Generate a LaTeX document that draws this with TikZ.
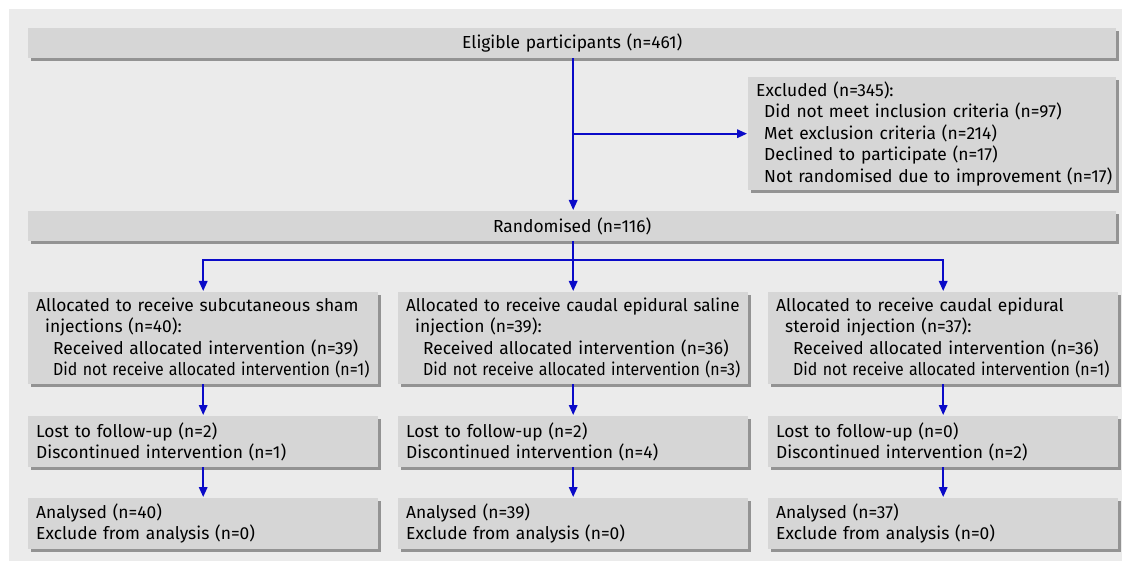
\documentclass[tikz,border=0pt]{standalone}
\usepackage{fontspec}
\usepackage{graphicx}
\setmainfont{Fira Sans}
\usetikzlibrary{arrows.meta,shadows}
\definecolor{panelgrey}{HTML}{EBEBEB}
\definecolor{boxgrey}{HTML}{D6D6D6}
\definecolor{shadowgrey}{HTML}{939393}
\definecolor{flowblue}{RGB}{10,10,200}
\newcommand{\squeezed}[1]{\scalebox{0.915}[1]{#1}}
\tikzset{
  flowbox/.style={fill=boxgrey, anchor=north west, inner xsep=8pt, inner ysep=0pt,
    align=left, text width=334pt, minimum width=350pt,
    general shadow={fill=shadowgrey, shadow xshift=3pt, shadow yshift=-3pt},
    font=\fontsize{17.4pt}{21.5pt}\selectfont},
  widebox/.style={flowbox, text width=1072pt, minimum width=1088pt, align=center},
  flowarrow/.style={draw=flowblue, line width=1.8pt,
    -{Triangle[length=10pt,width=8.5pt]}, shorten >=1pt}
}
\begin{document}
\begin{tikzpicture}[x=1pt,y=-1pt]
\useasboundingbox (0,0) rectangle (1122,561);
\fill[white] (0,0) rectangle (1122,561);
\fill[panelgrey] (9,9) rectangle (1122,561);

\node[widebox, minimum height=30pt] (elig) at (28,28) {\mbox{Eligible participants (n=461)}};
\node[flowbox, text width=352pt, minimum width=368pt, minimum height=113pt] (excl) at (748,77)
  {\mbox{Excluded (n=345):}\\
   \mbox{\hspace*{8pt}Did not meet inclusion criteria (n=97)}\\
   \mbox{\hspace*{8pt}Met exclusion criteria (n=214)}\\
   \mbox{\hspace*{8pt}Declined to participate (n=17)}\\
   \mbox{\hspace*{8pt}Not randomised due to improvement (n=17)}};
\node[widebox, minimum height=30pt] (rand) at (28,211) {\mbox{Randomised (n=116)}};

\node[flowbox, minimum height=92pt] (al1) at (28,292)
  {\mbox{Allocated to receive subcutaneous sham}\\
   \mbox{\hspace*{9pt}injections (n=40):}\\
   \mbox{\hspace*{17pt}Received allocated intervention (n=39)}\\
   \mbox{\hspace*{17pt}\squeezed{Did not receive allocated intervention (n=1)}}};
\node[flowbox, minimum height=92pt] (al2) at (398,292)
  {\mbox{\scalebox{0.98}[1]{Allocated to receive caudal epidural saline}}\\
   \mbox{\hspace*{9pt}injection (n=39):}\\
   \mbox{\hspace*{17pt}Received allocated intervention (n=36)}\\
   \mbox{\hspace*{17pt}\squeezed{Did not receive allocated intervention (n=3)}}};
\node[flowbox, minimum height=92pt] (al3) at (768,292)
  {\mbox{Allocated to receive caudal epidural}\\
   \mbox{\hspace*{9pt}steroid injection (n=37):}\\
   \mbox{\hspace*{17pt}Received allocated intervention (n=36)}\\
   \mbox{\hspace*{17pt}\squeezed{Did not receive allocated intervention (n=1)}}};

\node[flowbox, minimum height=51pt] (lo1) at (28,416)
  {\mbox{Lost to follow-up (n=2)}\\ \mbox{Discontinued intervention (n=1)}};
\node[flowbox, minimum height=51pt] (lo2) at (398,416)
  {\mbox{Lost to follow-up (n=2)}\\ \mbox{Discontinued intervention (n=4)}};
\node[flowbox, minimum height=51pt] (lo3) at (768,416)
  {\mbox{Lost to follow-up (n=0)}\\ \mbox{Discontinued intervention (n=2)}};

\node[flowbox, minimum height=51pt] (an1) at (28,498)
  {\mbox{Analysed (n=40)}\\ \mbox{Exclude from analysis (n=0)}};
\node[flowbox, minimum height=51pt] (an2) at (398,498)
  {\mbox{Analysed (n=39)}\\ \mbox{Exclude from analysis (n=0)}};
\node[flowbox, minimum height=51pt] (an3) at (768,498)
  {\mbox{Analysed (n=37)}\\ \mbox{Exclude from analysis (n=0)}};

\coordinate (split) at (al2.north |- 0,260);
\draw[flowarrow] (elig.south -| al2.north) -- (rand.north -| al2.north);
\draw[flowarrow] (al2.north |- excl.west) -- (excl.west);
\draw[flowarrow] (rand.south -| al2.north) -- (al2.north);
\draw[flowarrow] (split) -| (al1.north);
\draw[flowarrow] (split) -| (al3.north);
\foreach \i in {1,2,3}{
  \draw[flowarrow] (al\i.south) -- (lo\i.north);
  \draw[flowarrow] (lo\i.south) -- (an\i.north);
}
\end{tikzpicture}
\end{document}
